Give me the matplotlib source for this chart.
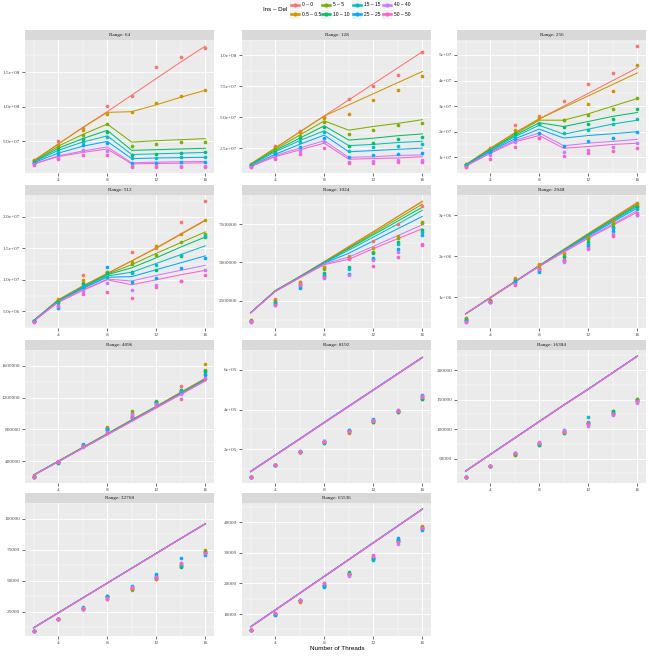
import numpy as np
import matplotlib.pyplot as plt
from matplotlib.lines import Line2D
from matplotlib.patches import Rectangle

threads = [2, 4, 6, 8, 10, 12, 14, 16]
groups = ['0 – 0', '0.5 – 0.5', '5 – 5', '10 – 10', '15 – 15', '25 – 25', '40 – 40', '50 – 50']
colors = ['#F8766D', '#CD9600', '#7CAE00', '#00BE67', '#00BFC4', '#00A9FF', '#C77CFF', '#FF61CC']
ranges = [64, 128, 256, 512, 1024, 2048, 4096, 8192, 16384, 32768, 65536]

# ---- Range 64
lines_64 = [
    [2.2e7, 4.6e7, 7.0e7, 9.3e7, 1.17e8, 1.41e8, 1.65e8, 1.88e8],
    [2.2e7, 4.6e7, 7.0e7, 9.2e7, 9.3e7, 1.03e8, 1.14e8, 1.24e8],
    [2.1e7, 4.3e7, 6.0e7, 7.5e7, 4.9e7, 5.1e7, 5.25e7, 5.4e7],
    [2.05e7, 4.0e7, 5.4e7, 6.6e7, 3.7e7, 3.8e7, 3.9e7, 4.0e7],
    [2.0e7, 3.7e7, 4.9e7, 5.8e7, 3.1e7, 3.2e7, 3.3e7, 3.4e7],
    [1.9e7, 3.3e7, 4.3e7, 5.0e7, 2.5e7, 2.6e7, 2.65e7, 2.7e7],
    [1.75e7, 2.9e7, 3.6e7, 4.2e7, 1.9e7, 2.0e7, 2.05e7, 2.1e7],
    [1.7e7, 2.8e7, 3.4e7, 3.9e7, 1.75e7, 1.8e7, 1.85e7, 1.9e7],
]
points_64 = [
    [2.3e7, 5.05e7, 6.9e7, 1.01e8, 1.16e8, 1.57e8, 1.72e8, 1.85e8],
    [2.3e7, 4.5e7, 6.7e7, 9.0e7, 9.2e7, 1.05e8, 1.15e8, 1.24e8],
    [2.1e7, 4.2e7, 5.9e7, 7.5e7, 4.3e7, 4.6e7, 4.85e7, 4.95e7],
    [2.0e7, 3.9e7, 5.3e7, 6.4e7, 3.1e7, 3.2e7, 3.3e7, 3.4e7],
    [1.9e7, 3.5e7, 4.9e7, 5.6e7, 2.55e7, 2.6e7, 2.7e7, 2.8e7],
    [1.8e7, 3.2e7, 4.5e7, 4.7e7, 1.9e7, 1.9e7, 2.0e7, 2.0e7],
    [1.7e7, 2.6e7, 3.8e7, 3.6e7, 1.45e7, 1.45e7, 1.5e7, 1.5e7],
    [1.6e7, 2.4e7, 3.1e7, 3.1e7, 1.3e7, 1.3e7, 1.3e7, 1.3e7],
]
ticks_64 = [5e7, 1e8, 1.5e8]
labels_64 = ['5.0e+07', '1.0e+08', '1.5e+08']

# ---- Range 128
lines_128 = [
    [1.2e7, 2.5e7, 3.8e7, 5.1e7, 6.4e7, 7.7e7, 9.0e7, 1.03e8],
    [1.2e7, 2.5e7, 3.8e7, 5.1e7, 6.0e7, 6.9e7, 7.8e7, 8.7e7],
    [1.2e7, 2.4e7, 3.55e7, 4.7e7, 3.95e7, 4.25e7, 4.5e7, 4.8e7],
    [1.15e7, 2.3e7, 3.3e7, 4.3e7, 3.15e7, 3.3e7, 3.5e7, 3.65e7],
    [1.1e7, 2.2e7, 3.1e7, 3.9e7, 2.7e7, 2.8e7, 2.95e7, 3.05e7],
    [1.05e7, 2.0e7, 2.8e7, 3.55e7, 2.2e7, 2.3e7, 2.4e7, 2.5e7],
    [1.0e7, 1.9e7, 2.5e7, 3.1e7, 1.75e7, 1.8e7, 1.9e7, 1.95e7],
    [1.0e7, 1.8e7, 2.35e7, 2.9e7, 1.6e7, 1.65e7, 1.7e7, 1.8e7],
]
points_128 = [
    [1.2e7, 2.7e7, 3.9e7, 5.0e7, 6.5e7, 7.5e7, 8.4e7, 1.03e8],
    [1.2e7, 2.6e7, 3.8e7, 4.9e7, 5.25e7, 6.4e7, 7.2e7, 8.3e7],
    [1.15e7, 2.4e7, 3.5e7, 4.6e7, 3.6e7, 4.0e7, 4.4e7, 4.55e7],
    [1.1e7, 2.2e7, 3.3e7, 4.2e7, 2.7e7, 2.95e7, 3.2e7, 3.4e7],
    [1.1e7, 2.1e7, 3.0e7, 3.8e7, 2.3e7, 2.6e7, 2.7e7, 2.8e7],
    [1.05e7, 2.0e7, 2.6e7, 3.3e7, 1.75e7, 1.9e7, 2.0e7, 2.1e7],
    [1.0e7, 1.7e7, 2.3e7, 3.0e7, 1.4e7, 1.45e7, 1.55e7, 1.55e7],
    [0.95e7, 1.6e7, 2.0e7, 2.5e7, 1.3e7, 1.3e7, 1.35e7, 1.4e7],
]
ticks_128 = [2.5e7, 5e7, 7.5e7, 1e8]
labels_128 = ['2.5e+07', '5.0e+07', '7.5e+07', '1.0e+08']

# ---- Range 256
lines_256 = [
    [0.7e7, 1.35e7, 1.95e7, 2.5e7, 3.0e7, 3.5e7, 4.0e7, 4.5e7],
    [0.7e7, 1.35e7, 1.95e7, 2.5e7, 2.95e7, 3.4e7, 3.85e7, 4.3e7],
    [0.7e7, 1.3e7, 1.9e7, 2.45e7, 2.45e7, 2.7e7, 3.0e7, 3.3e7],
    [0.7e7, 1.3e7, 1.85e7, 2.35e7, 2.2e7, 2.4e7, 2.6e7, 2.75e7],
    [0.68e7, 1.25e7, 1.8e7, 2.25e7, 1.9e7, 2.1e7, 2.3e7, 2.45e7],
    [0.67e7, 1.22e7, 1.72e7, 2.1e7, 1.75e7, 1.85e7, 1.92e7, 2.0e7],
    [0.65e7, 1.18e7, 1.65e7, 1.95e7, 1.45e7, 1.55e7, 1.62e7, 1.7e7],
    [0.65e7, 1.15e7, 1.6e7, 1.85e7, 1.35e7, 1.42e7, 1.5e7, 1.55e7],
]
points_256 = [
    [0.7e7, 1.3e7, 2.25e7, 2.6e7, 3.2e7, 3.85e7, 4.3e7, 5.35e7],
    [0.72e7, 1.38e7, 2.05e7, 2.55e7, 2.45e7, 3.1e7, 3.6e7, 4.6e7],
    [0.72e7, 1.3e7, 1.95e7, 2.35e7, 2.45e7, 2.65e7, 2.9e7, 3.3e7],
    [0.7e7, 1.28e7, 1.9e7, 2.3e7, 2.2e7, 2.3e7, 2.5e7, 2.9e7],
    [0.68e7, 1.25e7, 1.8e7, 2.3e7, 1.95e7, 2.05e7, 2.3e7, 2.5e7],
    [0.65e7, 1.2e7, 1.7e7, 1.95e7, 1.45e7, 1.65e7, 1.75e7, 2.0e7],
    [0.63e7, 1.1e7, 1.6e7, 1.75e7, 1.2e7, 1.3e7, 1.4e7, 1.55e7],
    [0.62e7, 0.95e7, 1.4e7, 1.75e7, 1.05e7, 1.15e7, 1.25e7, 1.35e7],
]
ticks_256 = [1e7, 2e7, 3e7, 4e7, 5e7]
labels_256 = ['1e+07', '2e+07', '3e+07', '4e+07', '5e+07']

# ---- Range 512
lines_512 = [
    [3.5e6, 6.8e6, 9.0e6, 1.1e7, 1.3e7, 1.51e7, 1.73e7, 1.95e7],
    [3.5e6, 6.8e6, 9.0e6, 1.1e7, 1.3e7, 1.5e7, 1.72e7, 1.94e7],
    [3.5e6, 6.7e6, 8.9e6, 1.09e7, 1.24e7, 1.42e7, 1.59e7, 1.76e7],
    [3.5e6, 6.7e6, 8.8e6, 1.08e7, 1.19e7, 1.35e7, 1.52e7, 1.68e7],
    [3.5e6, 6.6e6, 8.7e6, 1.06e7, 1.12e7, 1.26e7, 1.40e7, 1.54e7],
    [3.5e6, 6.6e6, 8.6e6, 1.04e7, 1.05e7, 1.16e7, 1.27e7, 1.38e7],
    [3.4e6, 6.5e6, 8.4e6, 1.01e7, 0.98e7, 1.07e7, 1.15e7, 1.23e7],
    [3.4e6, 6.4e6, 8.3e6, 1.0e7, 0.92e7, 1.0e7, 1.08e7, 1.15e7],
]
points_512 = [
    [3.5e6, 6.8e6, 1.07e7, 1.1e7, 1.44e7, 1.5e7, 1.91e7, 2.25e7],
    [3.5e6, 6.9e6, 1.0e7, 1.13e7, 1.28e7, 1.54e7, 1.72e7, 1.95e7],
    [3.5e6, 6.6e6, 0.95e7, 1.12e7, 1.25e7, 1.4e7, 1.6e7, 1.72e7],
    [3.4e6, 6.5e6, 0.93e7, 1.1e7, 1.12e7, 1.15e7, 1.37e7, 1.68e7],
    [3.4e6, 6.3e6, 0.9e7, 1.05e7, 1.1e7, 1.24e7, 1.4e7, 1.7e7],
    [3.4e6, 5.5e6, 0.88e7, 1.2e7, 0.97e7, 1.03e7, 1.18e7, 1.35e7],
    [3.3e6, 5.9e6, 0.82e7, 0.95e7, 0.84e7, 0.92e7, 0.98e7, 1.16e7],
    [3.3e6, 5.8e6, 0.78e7, 0.8e7, 0.71e7, 0.89e7, 0.98e7, 1.08e7],
]
ticks_512 = [5e6, 1e7, 1.5e7, 2e7]
labels_512 = ['5.0e+06', '1.0e+07', '1.5e+07', '2.0e+07']

# ---- Range 1024
lines_1024 = [
    [1.72e6, 3.15e6, 4.08e6, 5.05e6, 6.05e6, 7.0e6, 8.0e6, 9.0e6],
    [1.72e6, 3.15e6, 4.08e6, 5.05e6, 6.0e6, 7.0e6, 8.0e6, 8.95e6],
    [1.72e6, 3.15e6, 4.06e6, 5.0e6, 5.95e6, 6.9e6, 7.85e6, 8.8e6],
    [1.72e6, 3.14e6, 4.05e6, 5.0e6, 5.9e6, 6.8e6, 7.7e6, 8.6e6],
    [1.72e6, 3.13e6, 4.04e6, 4.98e6, 5.8e6, 6.65e6, 7.5e6, 8.4e6],
    [1.71e6, 3.12e6, 4.02e6, 4.95e6, 5.6e6, 6.4e6, 7.2e6, 8.0e6],
    [1.7e6, 3.1e6, 4.0e6, 4.9e6, 5.35e6, 6.05e6, 6.75e6, 7.45e6],
    [1.7e6, 3.1e6, 4.0e6, 4.85e6, 5.2e6, 5.9e6, 6.55e6, 7.2e6],
]
points_1024 = [
    [1.25e6, 2.6e6, 3.7e6, 4.7e6, 5.4e6, 6.4e6, 7.5e6, 8.7e6],
    [1.22e6, 2.55e6, 3.7e6, 4.7e6, 5.3e6, 5.95e6, 6.7e6, 7.65e6],
    [1.2e6, 2.45e6, 3.6e6, 4.6e6, 5.3e6, 5.7e6, 6.6e6, 7.6e6],
    [1.18e6, 2.4e6, 3.55e6, 4.3e6, 4.7e6, 5.6e6, 6.3e6, 7.1e6],
    [1.16e6, 2.35e6, 3.4e6, 4.2e6, 4.6e6, 5.3e6, 6.2e6, 7.0e6],
    [1.14e6, 2.3e6, 3.35e6, 4.1e6, 4.25e6, 5.2e6, 5.9e6, 6.8e6],
    [1.12e6, 2.2e6, 3.5e6, 4.0e6, 4.2e6, 5.15e6, 5.7e6, 6.2e6],
    [1.15e6, 2.25e6, 3.6e6, 4.05e6, 5.2e6, 4.75e6, 5.35e6, 6.15e6],
]
ticks_1024 = [2.5e6, 5e6, 7.5e6]
labels_1024 = ['2500000', '5000000', '7500000']

# ---- Range 2048
lines_2048 = [
    [5.9e5, 9.9e5, 1.38e6, 1.77e6, 2.17e6, 2.56e6, 2.94e6, 3.32e6],
    [5.9e5, 9.9e5, 1.38e6, 1.77e6, 2.16e6, 2.55e6, 2.93e6, 3.3e6],
    [5.9e5, 9.8e5, 1.37e6, 1.77e6, 2.16e6, 2.54e6, 2.91e6, 3.28e6],
    [5.9e5, 9.8e5, 1.37e6, 1.77e6, 2.15e6, 2.53e6, 2.89e6, 3.25e6],
    [5.9e5, 9.8e5, 1.37e6, 1.76e6, 2.14e6, 2.51e6, 2.87e6, 3.22e6],
    [5.9e5, 9.8e5, 1.37e6, 1.76e6, 2.13e6, 2.49e6, 2.84e6, 3.18e6],
    [5.9e5, 9.8e5, 1.37e6, 1.76e6, 2.12e6, 2.46e6, 2.79e6, 3.12e6],
    [5.9e5, 9.8e5, 1.37e6, 1.75e6, 2.1e6, 2.44e6, 2.76e6, 3.08e6],
]
points_2048 = [
    [4.9e5, 9.3e5, 1.47e6, 1.8e6, 2.08e6, 2.45e6, 2.85e6, 3.28e6],
    [4.8e5, 9.2e5, 1.45e6, 1.78e6, 2.05e6, 2.48e6, 2.86e6, 3.3e6],
    [4.6e5, 9.1e5, 1.42e6, 1.72e6, 2.0e6, 2.42e6, 2.8e6, 3.24e6],
    [4.5e5, 9.0e5, 1.4e6, 1.68e6, 1.97e6, 2.35e6, 2.72e6, 3.2e6],
    [4.4e5, 8.9e5, 1.38e6, 1.62e6, 1.92e6, 2.3e6, 2.68e6, 3.15e6],
    [4.2e5, 8.8e5, 1.36e6, 1.65e6, 1.88e6, 2.25e6, 2.62e6, 3.0e6],
    [3.9e5, 8.7e5, 1.32e6, 1.68e6, 1.87e6, 2.18e6, 2.55e6, 3.02e6],
    [4.0e5, 8.8e5, 1.3e6, 1.7e6, 1.9e6, 2.2e6, 2.5e6, 3.05e6],
]
ticks_2048 = [1e6, 2e6, 3e6]
labels_2048 = ['1e+06', '2e+06', '3e+06']

# ---- Range 4096
lines_4096 = [
    [2.25e5, 3.98e5, 5.72e5, 7.45e5, 9.2e5, 1.09e6, 1.27e6, 1.445e6],
    [2.25e5, 3.98e5, 5.72e5, 7.45e5, 9.2e5, 1.09e6, 1.265e6, 1.44e6],
    [2.24e5, 3.97e5, 5.7e5, 7.43e5, 9.15e5, 1.085e6, 1.26e6, 1.435e6],
    [2.24e5, 3.96e5, 5.68e5, 7.4e5, 9.12e5, 1.083e6, 1.255e6, 1.43e6],
    [2.23e5, 3.95e5, 5.66e5, 7.38e5, 9.1e5, 1.08e6, 1.25e6, 1.425e6],
    [2.22e5, 3.93e5, 5.64e5, 7.35e5, 9.06e5, 1.077e6, 1.247e6, 1.42e6],
    [2.21e5, 3.92e5, 5.62e5, 7.32e5, 9.03e5, 1.073e6, 1.243e6, 1.415e6],
    [2.2e5, 3.9e5, 5.6e5, 7.3e5, 9.0e5, 1.07e6, 1.24e6, 1.41e6],
]
points_4096 = [
    [2.1e5, 3.9e5, 6.0e5, 8.2e5, 1.0e6, 1.15e6, 1.34e6, 1.52e6],
    [2.1e5, 3.85e5, 5.95e5, 8.3e5, 9.8e5, 1.14e6, 1.3e6, 1.62e6],
    [2.05e5, 3.8e5, 5.9e5, 8.1e5, 1.03e6, 1.16e6, 1.28e6, 1.55e6],
    [2.0e5, 3.7e5, 5.85e5, 7.9e5, 9.6e5, 1.14e6, 1.3e6, 1.53e6],
    [2.0e5, 3.85e5, 6.1e5, 8.0e5, 9.4e5, 1.12e6, 1.28e6, 1.5e6],
    [1.95e5, 3.9e5, 6.0e5, 8.0e5, 9.5e5, 1.13e6, 1.26e6, 1.48e6],
    [1.95e5, 3.95e5, 5.8e5, 7.7e5, 9.9e5, 1.12e6, 1.24e6, 1.45e6],
    [2.0e5, 3.9e5, 5.9e5, 7.5e5, 9.6e5, 1.1e6, 1.18e6, 1.44e6],
]
ticks_4096 = [4e5, 8e5, 1.2e6, 1.6e6]
labels_4096 = ['400000', '800000', '1200000', '1600000']

# ---- Range 8192 (model lines nearly coincide; the 50-50 one sits a hair lower)
line_8192 = [8.8e4, 1.70e5, 2.52e5, 3.35e5, 4.17e5, 4.99e5, 5.81e5, 6.63e5]
line_8192_low = [8.5e4, 1.67e5, 2.49e5, 3.32e5, 4.14e5, 4.96e5, 5.78e5, 6.60e5]
lines_8192 = [line_8192] * 7 + [line_8192_low]
points_8192 = [
    [6.0e4, 1.22e5, 1.88e5, 2.38e5, 2.9e5, 3.45e5, 3.95e5, 4.65e5],
    [6.0e4, 1.22e5, 1.87e5, 2.35e5, 2.8e5, 3.4e5, 3.9e5, 4.6e5],
    [6.0e4, 1.21e5, 1.86e5, 2.33e5, 2.85e5, 3.35e5, 3.88e5, 4.55e5],
    [6.0e4, 1.2e5, 1.86e5, 2.3e5, 2.9e5, 3.35e5, 3.9e5, 4.55e5],
    [6.0e4, 1.21e5, 1.88e5, 2.4e5, 2.95e5, 3.45e5, 3.95e5, 4.7e5],
    [6.0e4, 1.22e5, 1.9e5, 2.42e5, 2.97e5, 3.5e5, 3.97e5, 4.72e5],
    [6.0e4, 1.22e5, 1.89e5, 2.4e5, 2.93e5, 3.45e5, 4.0e5, 4.68e5],
    [6.0e4, 1.22e5, 1.88e5, 2.36e5, 2.9e5, 3.4e5, 3.92e5, 4.62e5],
]
ticks_8192 = [2e5, 4e5, 6e5]
labels_8192 = ['2e+05', '4e+05', '6e+05']

# ---- Range 16384
line_16384 = [2.9e4, 5.7e4, 8.5e4, 1.13e5, 1.41e5, 1.68e5, 1.96e5, 2.24e5]
line_16384_low = [2.83e4, 5.63e4, 8.43e4, 1.123e5, 1.403e5, 1.673e5, 1.953e5, 2.233e5]
lines_16384 = [line_16384] * 7 + [line_16384_low]
points_16384 = [
    [1.9e4, 3.8e4, 5.8e4, 7.5e4, 9.6e4, 1.13e5, 1.27e5, 1.49e5],
    [1.9e4, 3.8e4, 5.6e4, 7.6e4, 9.5e4, 1.1e5, 1.28e5, 1.51e5],
    [1.9e4, 3.8e4, 5.7e4, 7.4e4, 9.4e4, 1.08e5, 1.3e5, 1.52e5],
    [1.9e4, 3.8e4, 5.8e4, 7.4e4, 9.3e4, 1.1e5, 1.31e5, 1.5e5],
    [1.9e4, 3.8e4, 5.9e4, 7.5e4, 9.8e4, 1.21e5, 1.27e5, 1.48e5],
    [1.9e4, 3.8e4, 5.9e4, 7.6e4, 9.7e4, 1.1e5, 1.25e5, 1.46e5],
    [1.9e4, 3.8e4, 6.0e4, 7.8e4, 9.9e4, 1.06e5, 1.24e5, 1.45e5],
    [1.9e4, 3.8e4, 5.9e4, 7.7e4, 9.6e4, 1.08e5, 1.25e5, 1.47e5],
]
ticks_16384 = [5e4, 1e5, 1.5e5, 2e5]
labels_16384 = ['50000', '100000', '150000', '200000']

# ---- Range 32768
line_32768 = [1.2e4, 2.4e4, 3.6e4, 4.8e4, 6.0e4, 7.2e4, 8.4e4, 9.58e4]
line_32768_low = [1.17e4, 2.37e4, 3.57e4, 4.77e4, 5.97e4, 7.17e4, 8.37e4, 9.55e4]
lines_32768 = [line_32768] * 7 + [line_32768_low]
points_32768 = [
    [9.7e3, 1.91e4, 2.75e4, 3.5e4, 4.3e4, 5.15e4, 6.3e4, 7.4e4],
    [9.7e3, 1.91e4, 2.7e4, 3.8e4, 4.25e4, 5.1e4, 6.2e4, 7.45e4],
    [9.7e3, 1.91e4, 2.75e4, 3.75e4, 4.35e4, 5.2e4, 6.15e4, 7.3e4],
    [9.7e3, 1.91e4, 2.8e4, 3.65e4, 4.4e4, 5.3e4, 6.1e4, 7.3e4],
    [9.7e3, 1.91e4, 2.8e4, 3.7e4, 4.5e4, 5.4e4, 6.25e4, 7.2e4],
    [9.7e3, 1.91e4, 2.85e4, 3.75e4, 4.6e4, 5.5e4, 6.8e4, 7.1e4],
    [9.7e3, 1.91e4, 2.8e4, 3.6e4, 4.45e4, 5.3e4, 6.45e4, 7.2e4],
    [9.7e3, 1.91e4, 2.7e4, 3.55e4, 4.4e4, 5.2e4, 6.4e4, 7.25e4],
]
ticks_32768 = [2.5e4, 5e4, 7.5e4, 1e5]
labels_32768 = ['25000', '50000', '75000', '100000']

# ---- Range 65536
line_65536 = [5.85e3, 1.13e4, 1.68e4, 2.23e4, 2.78e4, 3.33e4, 3.88e4, 4.43e4]
line_65536_low = [5.7e3, 1.115e4, 1.665e4, 2.215e4, 2.765e4, 3.315e4, 3.865e4, 4.415e4]
lines_65536 = [line_65536] * 7 + [line_65536_low]
points_65536 = [
    [4.8e3, 1.0e4, 1.42e4, 1.95e4, 2.3e4, 2.85e4, 3.4e4, 3.85e4],
    [4.8e3, 1.0e4, 1.4e4, 1.98e4, 2.32e4, 2.8e4, 3.38e4, 3.88e4],
    [4.8e3, 1.0e4, 1.43e4, 1.95e4, 2.35e4, 2.82e4, 3.42e4, 3.85e4],
    [4.8e3, 1.0e4, 1.45e4, 1.92e4, 2.36e4, 2.8e4, 3.4e4, 3.82e4],
    [4.8e3, 0.98e4, 1.45e4, 1.9e4, 2.3e4, 2.77e4, 3.45e4, 3.78e4],
    [4.8e3, 0.97e4, 1.47e4, 1.88e4, 2.28e4, 2.82e4, 3.5e4, 3.75e4],
    [4.8e3, 1.02e4, 1.45e4, 2.0e4, 2.25e4, 2.88e4, 3.3e4, 3.8e4],
    [4.8e3, 1.05e4, 1.43e4, 2.03e4, 2.3e4, 2.92e4, 3.35e4, 3.82e4],
]
ticks_65536 = [1e4, 2e4, 3e4, 4e4]
labels_65536 = ['10000', '20000', '30000', '40000']

panels = {
    64: (lines_64, points_64, ticks_64, labels_64),
    128: (lines_128, points_128, ticks_128, labels_128),
    256: (lines_256, points_256, ticks_256, labels_256),
    512: (lines_512, points_512, ticks_512, labels_512),
    1024: (lines_1024, points_1024, ticks_1024, labels_1024),
    2048: (lines_2048, points_2048, ticks_2048, labels_2048),
    4096: (lines_4096, points_4096, ticks_4096, labels_4096),
    8192: (lines_8192, points_8192, ticks_8192, labels_8192),
    16384: (lines_16384, points_16384, ticks_16384, labels_16384),
    32768: (lines_32768, points_32768, ticks_32768, labels_32768),
    65536: (lines_65536, points_65536, ticks_65536, labels_65536),
}

W, H = 649, 659
fig = plt.figure(figsize=(W / 100, H / 100), dpi=100)

col_left = [25, 242, 457]
row_top = [30, 185, 340, 493]
pw, strip_h, ph = 189, 10, 133
serif = 'Liberation Serif'
sans = 'Liberation Sans'

for i, r in enumerate(ranges):
    row, col = divmod(i, 3)
    left = col_left[col]
    top = row_top[row]
    ax = fig.add_axes([left / W, 1 - (top + strip_h + ph) / H, pw / W, ph / H])
    sax = fig.add_axes([left / W, 1 - (top + strip_h) / H, pw / W, strip_h / H])
    sax.set_facecolor('#D9D9D9')
    sax.set_xticks([])
    sax.set_yticks([])
    for s in sax.spines.values():
        s.set_visible(False)
    sax.text(0.5, 0.5, 'Range: %d' % r, ha='center', va='center',
             fontsize=3.7, family=serif, color='#1A1A1A', transform=sax.transAxes)

    lines, points, yt, yl = panels[r]
    for k in range(8):
        ax.plot(threads, lines[k], color=colors[k], lw=0.75, zorder=2)
    for k in range(8):
        ax.scatter(threads, points[k], s=7, color=colors[k], lw=0, zorder=3)

    allv = np.concatenate([np.ravel(lines), np.ravel(points)])
    lo, hi = allv.min(), allv.max()
    pad = (hi - lo) * 0.05
    ax.set_ylim(lo - pad, hi + pad)
    ax.set_xlim(2 - 0.7, 16 + 0.7)

    ax.set_facecolor('#EBEBEB')
    ax.set_axisbelow(True)
    for s in ax.spines.values():
        s.set_visible(False)
    ax.set_xticks([4, 8, 12, 16])
    ax.set_xticklabels(['4', '8', '12', '16'], family=serif)
    ax.set_xticks([2, 6, 10, 14], minor=True)
    ax.set_yticks(yt)
    ax.set_yticklabels(yl, family=serif)
    step = yt[1] - yt[0]
    ax.set_yticks([yt[0] - step / 2] + [t + step / 2 for t in yt], minor=True)
    ax.grid(which='major', color='white', lw=0.7)
    ax.grid(which='minor', color='white', lw=0.35)
    ax.tick_params(which='major', length=2, width=0.5, color='#333333',
                   labelsize=3.8, labelcolor='#4D4D4D', pad=1.5)
    ax.tick_params(which='minor', length=0)

fig.text(337 / W, 1 - 648 / H, 'Number of Threads', ha='center', va='center',
         fontsize=4.6, family=sans, color='black')

# legend
fig.text(263 / W, 1 - 9.5 / H, 'Ins – Del', ha='left', va='center',
         fontsize=4.4, family=sans, color='black')
key_x = [290, 321, 352, 382]
key_y = [4.5, 14]
for k in range(8):
    c, rr = divmod(k, 2)
    x0 = key_x[c]
    yc = key_y[rr]
    fig.add_artist(Rectangle((x0 / W, 1 - (yc + 4.5) / H), 10 / W, 9 / H,
                             transform=fig.transFigure, facecolor='#F2F2F2',
                             edgecolor='none'))
    fig.add_artist(Line2D([(x0 + 1) / W, (x0 + 9) / W], [1 - yc / H, 1 - yc / H],
                          transform=fig.transFigure, color=colors[k], lw=1.8))
    fig.add_artist(Line2D([(x0 + 5) / W], [1 - yc / H], transform=fig.transFigure,
                          color=colors[k], marker='o', markersize=2, lw=0))
    fig.text((x0 + 12) / W, 1 - yc / H, groups[k], ha='left', va='center',
             fontsize=3.5, family=sans, color='black')

fig.savefig('out.png', dpi=100)
